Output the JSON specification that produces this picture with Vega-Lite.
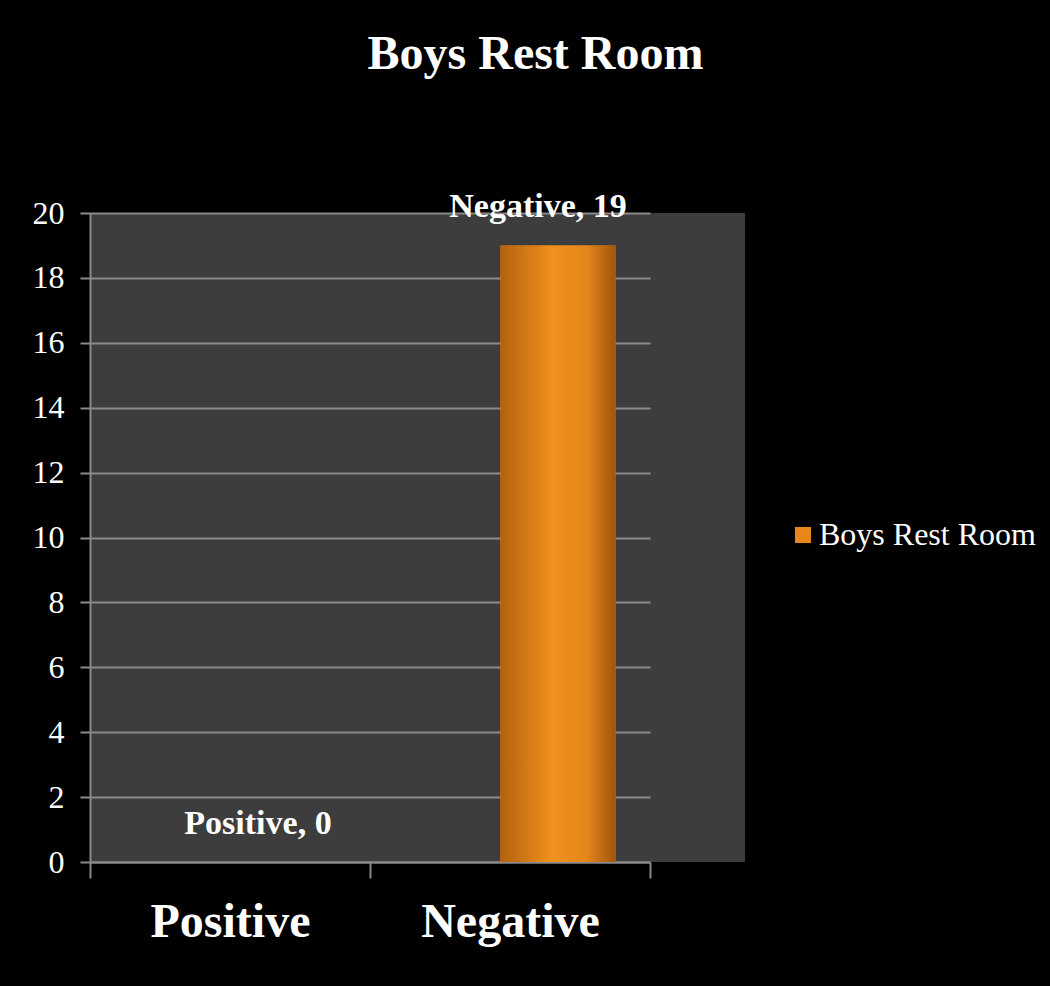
{
  "$schema": "https://vega.github.io/schema/vega-lite/v6.json",
  "width": 655,
  "height": 649,
  "autosize": {"type": "none"},
  "padding": {"left": 90, "top": 213, "right": 305, "bottom": 124},
  "background": "#000000",
  "title": {
    "text": "Boys Rest Room",
    "font": "Liberation Serif",
    "fontSize": 48,
    "fontWeight": "bold",
    "color": "#ffffff",
    "anchor": "middle",
    "frame": "group",
    "dx": 118,
    "offset": 111
  },
  "data": {
    "values": [
      {"category": "Positive", "value": 0, "series": "Boys Rest Room", "label": "Positive, 0"},
      {"category": "Negative", "value": 19, "series": "Boys Rest Room", "label": "Negative, 19"}
    ]
  },
  "encoding": {
    "x": {
      "field": "category",
      "type": "nominal",
      "sort": ["Positive", "Negative"],
      "scale": {"range": [0, 560], "paddingInner": 0, "paddingOuter": 0},
      "axis": {
        "title": null,
        "labelAngle": 0,
        "labelFont": "Liberation Serif",
        "labelFontSize": 48,
        "labelFontWeight": "bold",
        "labelColor": "#ffffff",
        "labelPadding": 20,
        "tickBand": "extent",
        "tickSize": 16,
        "tickColor": "#8a8a8a",
        "tickWidth": 2,
        "domainColor": "#8a8a8a",
        "domainWidth": 2
      }
    },
    "y": {
      "field": "value",
      "type": "quantitative",
      "scale": {"domain": [0, 20]},
      "axis": {
        "title": null,
        "values": [0, 2, 4, 6, 8, 10, 12, 14, 16, 18, 20],
        "labelFont": "Liberation Serif",
        "labelFontSize": 32,
        "labelColor": "#ffffff",
        "labelPadding": 16,
        "tickSize": 10,
        "tickColor": "#8a8a8a",
        "tickWidth": 2,
        "domainColor": "#8a8a8a",
        "domainWidth": 2,
        "gridColor": "#8a8a8a",
        "gridWidth": 2
      }
    }
  },
  "layer": [
    {
      "mark": {"type": "bar", "width": 115, "xOffset": 48},
      "encoding": {
        "color": {
          "field": "series",
          "type": "nominal",
          "scale": {"range": ["#E8861C"]},
          "legend": {
            "title": null,
            "orient": "none",
            "legendX": 697,
            "legendY": 306,
            "symbolType": "square",
            "symbolSize": 256,
            "symbolStrokeWidth": 0,
            "labelFont": "Liberation Serif",
            "labelFontSize": 32,
            "labelColor": "#ffffff",
            "labelOffset": 0,
            "labelLimit": 400
          }
        }
      }
    },
    {
      "mark": {
        "type": "bar",
        "width": 115,
        "xOffset": 48,
        "color": {
          "gradient": "linear",
          "x1": 0, "x2": 1, "y1": 0, "y2": 0,
          "stops": [
            {"offset": 0, "color": "#B3620F"},
            {"offset": 0.45, "color": "#F0901E"},
            {"offset": 0.75, "color": "#E5861B"},
            {"offset": 1, "color": "#A0540B"}
          ]
        }
      },
      "encoding": {}
    },
    {
      "mark": {
        "type": "text",
        "font": "Liberation Serif",
        "fontSize": 34,
        "fontWeight": "bold",
        "color": "#ffffff",
        "xOffset": 28,
        "dy": -28,
        "baseline": "alphabetic"
      },
      "encoding": {
        "text": {"field": "label"}
      }
    }
  ],
  "config": {
    "view": {"fill": "#3d3d3d", "stroke": null}
  }
}
